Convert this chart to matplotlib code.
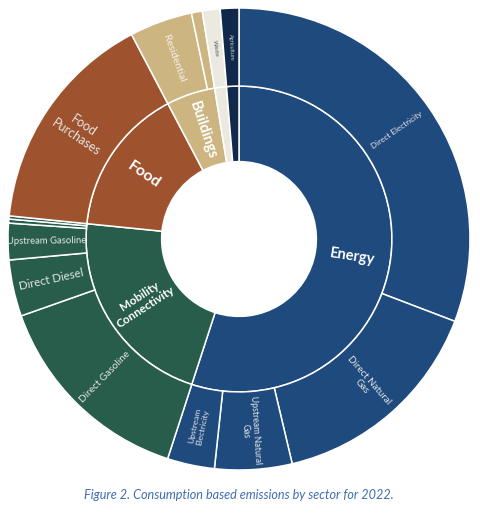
import matplotlib
matplotlib.use("Agg")
import matplotlib.pyplot as plt
import numpy as np

# ---- data ----
sectors = ["Energy", "Mobility\nConnectivity", "Food", "Buildings", "Waste", "Agriculture"]
sector_labels = ["Energy", "Mobility\nConnectivity", "Food", "Buildings", "", ""]
sector_colors = ["#1F4A7E", "#275D4A", "#9E532E", "#CDB582", "#ECEAE0", "#10294A"]

sub_labels = ["Direct Electricity", "Direct Natural\nGas", "Upstream Natural\nGas", "Upstream\nElectricity",
              "Direct Gasoline", "Direct Diesel", "Upstream Gasoline", "", "",
              "Food\nPurchases",
              "Residential", "",
              "Waste",
              "Agriculture"]
sub_values = [30.8, 15.5, 5.4, 3.3,
              14.6, 3.95, 2.55, 0.28, 0.22,
              15.7,
              4.4, 0.75,
              1.25,
              1.3]
sub_parent = [0, 0, 0, 0,
              1, 1, 1, 1, 1,
              2,
              3, 3,
              4,
              5]
sub_fontsize = [5.9, 7.0, 6.3, 6.0,
                7.2, 8.3, 6.8, 5, 5,
                9.0,
                7.5, 5,
                4.3,
                4.0]
sub_textcolor = ["#E6E6E6"] * 10 + ["#F4F0E6", "#FFFFFF", "#555555", "#CCCCCC"]
sector_fontsize = [10.5, 8.5, 11.5, 10.5, 5, 5]

caption = "Figure 2. Consumption based emissions by sector for 2022."

# ---- figure ----
W, H = 480, 515
fig = plt.figure(figsize=(W / 100, H / 100), dpi=100)
R_px = 231
cx, cy = 239, 239
ax = fig.add_axes([(cx - R_px) / W, (H - cy - R_px) / H, 2 * R_px / W, 2 * R_px / H])
ax.set_xlim(-1, 1)
ax.set_ylim(-1, 1)
ax.set_aspect("equal")
ax.axis("off")

r_out, r_mid, r_hole = 1.0, 0.662, 0.335

sector_values = [sum(v for v, p in zip(sub_values, sub_parent) if p == i) for i in range(len(sectors))]
sub_colors = [sector_colors[p] for p in sub_parent]

wp = dict(edgecolor="white", linewidth=1.1)
ax.pie(sector_values, radius=r_mid, colors=sector_colors, startangle=90, counterclock=False,
       wedgeprops=dict(width=r_mid - r_hole, **wp))
ax.pie(sub_values, radius=r_out, colors=sub_colors, startangle=90, counterclock=False,
       wedgeprops=dict(width=r_out - r_mid, **wp))
ax.set_xlim(-1, 1)
ax.set_ylim(-1, 1)

FONT = "Lato"


def place(values, labels, r, sizes, colors, bold):
    total = sum(values)
    cum = np.concatenate([[0], np.cumsum(values)])
    for i, lab in enumerate(labels):
        if not lab:
            continue
        theta = (cum[i] + cum[i + 1]) / 2 / total * 360.0
        t = np.deg2rad(theta)
        x, y = r * np.sin(t), r * np.cos(t)
        rot = 90 - theta
        rot = (rot + 180) % 360 - 180
        if rot > 90:
            rot -= 180
        elif rot <= -90:
            rot += 180
        ax.text(x, y, lab, ha="center", va="center", rotation=rot, rotation_mode="anchor",
                fontsize=sizes[i], color=colors[i], fontfamily=FONT,
                fontweight="bold" if bold else "normal", linespacing=1.15)


place(sub_values, sub_labels, (r_out + r_mid) / 2, sub_fontsize, sub_textcolor, False)
place(sector_values, sector_labels, (r_mid + r_hole) / 2, sector_fontsize, ["white"] * 6, True)

fig.text(239 / W, 1 - 495 / H, caption, ha="center", va="center", fontsize=9.1,
         style="italic", color="#3F6DB3", fontfamily=FONT)

fig.savefig("out.png", dpi=100, facecolor="white")
